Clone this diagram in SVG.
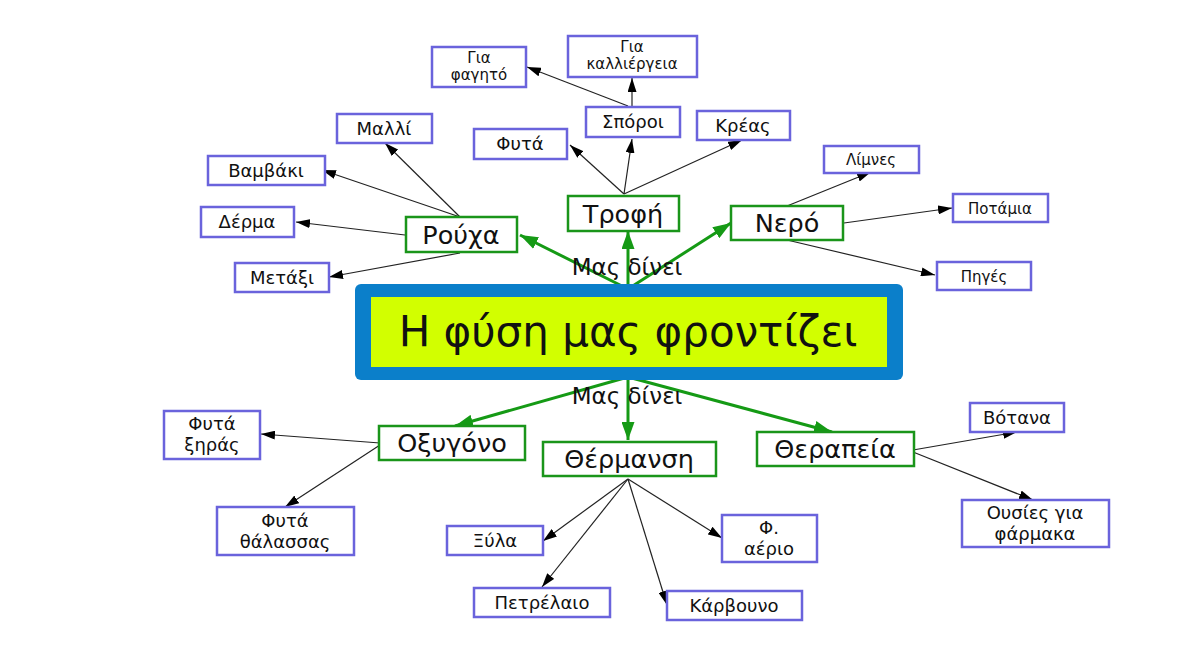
<svg xmlns="http://www.w3.org/2000/svg" width="1185" height="668" viewBox="0 0 1185 668">
<style>
text{font-family:"DejaVu Sans","Noto Sans",sans-serif;fill:#111;text-anchor:middle}
.leaf rect{fill:#fff;stroke:#6a63dc;stroke-width:2.5}
.leaf text{font-size:18px}
.leaf text.s{font-size:15px}
.cat rect{fill:#fff;stroke:#1a951a;stroke-width:2.5}
.cat text{font-size:25.5px}
.lbl{font-size:23px}
.blk{stroke:#222;stroke-width:1.2;fill:none;marker-end:url(#ab)}
.grn{stroke:#159a15;stroke-width:3;fill:none;marker-end:url(#ag)}
</style>
<defs>
<marker id="ab" viewBox="0 0 14 9" refX="14" refY="4.5" markerWidth="14" markerHeight="9" markerUnits="userSpaceOnUse" orient="auto"><path d="M0,0 L14,4.5 L0,9 z" fill="#000"/></marker>
<marker id="ag" viewBox="0 0 18 13" refX="18" refY="6.5" markerWidth="18" markerHeight="13" markerUnits="userSpaceOnUse" orient="auto"><path d="M0,0 L18,6.5 L0,13 z" fill="#159a15"/></marker>
</defs>
<rect width="1185" height="668" fill="#fff"/>

<g id="connectors">
<path class="grn" d="M628,289 L520,235"/>
<path class="grn" d="M628,289 L628,231"/>
<path class="grn" d="M628,289 L731,223"/>
<path class="grn" d="M628,377 L455,426"/>
<path class="grn" d="M628,377 L628,440"/>
<path class="grn" d="M628,377 L832,432"/>
<path class="blk" d="M460,217 L385,143"/>
<path class="blk" d="M460,217 L322,170"/>
<path class="blk" d="M405,235 L296,222"/>
<path class="blk" d="M460,253 L329,277"/>
<path class="blk" d="M624,194 L570,145"/>
<path class="blk" d="M624,194 L632,139"/>
<path class="blk" d="M624,194 L742,140"/>
<path class="blk" d="M632,107 L632,78"/>
<path class="blk" d="M628,106 L527,67"/>
<path class="blk" d="M787,206 L871,172"/>
<path class="blk" d="M844,223 L952,208"/>
<path class="blk" d="M787,240 L935,275"/>
<path class="blk" d="M380,443 L261,434"/>
<path class="blk" d="M380,445 L285,507"/>
<path class="blk" d="M628,479 L543,541"/>
<path class="blk" d="M628,479 L542,587"/>
<path class="blk" d="M628,479 L667,605"/>
<path class="blk" d="M628,479 L722,538"/>
<path class="blk" d="M913,450 L1017,432"/>
<path class="blk" d="M913,452 L1033,500"/>
<text class="lbl" x="627" y="275">Μας δίνει</text>
<text class="lbl" x="627" y="404">Μας δίνει</text>
</g>

<g id="center">
<rect x="355" y="284" width="548" height="96" rx="6" fill="#0b7fca"/>
<rect x="371" y="297" width="516" height="70" fill="#d2ff00"/>
<text x="628" y="346" style="font-size:42px">Η φύση μας φροντίζει</text>
</g>

<g id="rouxa" class="cat"><rect x="406" y="217" width="111" height="35"/><text x="461" y="244">Ρούχα</text></g>
<g id="trofi" class="cat"><rect x="568" y="196" width="111" height="35"/><text x="623" y="223">Τροφή</text></g>
<g id="nero" class="cat"><rect x="731" y="206" width="112" height="34"/><text x="787" y="232">Νερό</text></g>
<g id="oxygono" class="cat"><rect x="379" y="426" width="146" height="34"/><text x="452" y="452">Οξυγόνο</text></g>
<g id="thermansi" class="cat"><rect x="543" y="442" width="173" height="34"/><text x="629" y="468">Θέρμανση</text></g>
<g id="therapeia" class="cat"><rect x="757" y="432" width="157" height="34"/><text x="835" y="458">Θεραπεία</text></g>

<g id="gia-fagito" class="leaf"><rect x="432" y="47" width="94" height="40"/><text class="s" x="479" y="63">Για</text><text class="s" x="479" y="80">φαγητό</text></g>
<g id="gia-kalliergeia" class="leaf"><rect x="568" y="36" width="129" height="41"/><text class="s" x="632" y="52">Για</text><text class="s" x="632" y="69">καλλιέργεια</text></g>
<g id="sporoi" class="leaf"><rect x="586" y="107" width="94" height="30"/><text x="633" y="128">Σπόροι</text></g>
<g id="fyta" class="leaf"><rect x="474" y="129" width="93" height="30"/><text x="520" y="150">Φυτά</text></g>
<g id="kreas" class="leaf"><rect x="697" y="111" width="93" height="29"/><text x="743" y="132">Κρέας</text></g>
<g id="malli" class="leaf"><rect x="337" y="114" width="95" height="29"/><text x="384" y="135">Μαλλί</text></g>
<g id="vamvaki" class="leaf"><rect x="208" y="156" width="117" height="29"/><text x="266" y="177">Βαμβάκι</text></g>
<g id="derma" class="leaf"><rect x="201" y="207" width="93" height="30"/><text x="247" y="228">Δέρμα</text></g>
<g id="metaxi" class="leaf"><rect x="235" y="263" width="94" height="29"/><text x="282" y="284">Μετάξι</text></g>
<g id="limnes" class="leaf"><rect x="824" y="146" width="95" height="27"/><text class="s" x="871" y="165">Λίμνες</text></g>
<g id="potamia" class="leaf"><rect x="953" y="194" width="95" height="28"/><text class="s" x="1000" y="214">Ποτάμια</text></g>
<g id="piges" class="leaf"><rect x="937" y="262" width="94" height="28"/><text class="s" x="984" y="282">Πηγές</text></g>
<g id="fyta-xiras" class="leaf"><rect x="164" y="411" width="96" height="48"/><text x="212" y="430">Φυτά</text><text x="212" y="451">ξηράς</text></g>
<g id="fyta-thalassas" class="leaf"><rect x="217" y="507" width="137" height="48"/><text x="285" y="527">Φυτά</text><text x="285" y="548">θάλασσας</text></g>
<g id="xyla" class="leaf"><rect x="447" y="526" width="96" height="29"/><text x="495" y="547">Ξύλα</text></g>
<g id="petrelaio" class="leaf"><rect x="474" y="588" width="136" height="29"/><text x="542" y="609">Πετρέλαιο</text></g>
<g id="karvouno" class="leaf"><rect x="667" y="591" width="135" height="29"/><text x="734" y="612">Κάρβουνο</text></g>
<g id="f-aerio" class="leaf"><rect x="722" y="515" width="95" height="47"/><text x="769" y="534">Φ.</text><text x="769" y="555">αέριο</text></g>
<g id="votana" class="leaf"><rect x="970" y="403" width="94" height="29"/><text x="1017" y="424">Βότανα</text></g>
<g id="ousies" class="leaf"><rect x="962" y="500" width="147" height="47"/><text x="1035" y="519">Ουσίες για</text><text x="1035" y="540">φάρμακα</text></g>
</svg>
